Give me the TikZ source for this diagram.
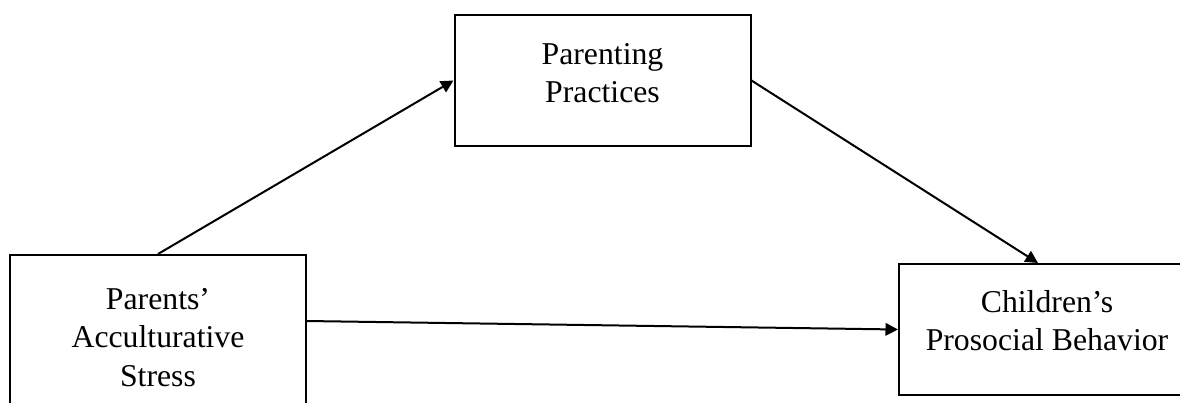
\documentclass[tikz,border=0pt]{standalone}
\usepackage{fontspec}
\setmainfont{Liberation Serif}
\usetikzlibrary{arrows.meta}
\tikzset{
  varbox/.style={draw,thick,rectangle,align=center,minimum width=296*0.4pt,minimum height=131*0.4pt,
    inner sep=0pt,font=\fontsize{12.7}{15.3}\selectfont},
  path/.style={thick,-{Triangle[length=5pt,width=5pt]}}
}
\begin{document}
\begin{tikzpicture}[x=0.4pt,y=-0.4pt]
\useasboundingbox (0,0) rectangle (1180,402);
\clip (0,0) rectangle (1180,402);
\node [varbox] (pp) at (602.5,80.5) {Parenting\\Practices\\[-9pt]};
\node [varbox,minimum height=165*0.4pt] (pas) at (158,337.5) {Parents’\\Acculturative\\Stress};
\node [varbox] (cpb) at (1047,329.5) {Children’s\\Prosocial Behavior\\[-8pt]};
\draw [path] (pas.north) -- (pp.west);
\draw [path] (pp.east) -- ([xshift=-3.6pt]cpb.north);
\draw [path] ([yshift=6.6pt]pas.east) -- (cpb.west);
\end{tikzpicture}
\end{document}
